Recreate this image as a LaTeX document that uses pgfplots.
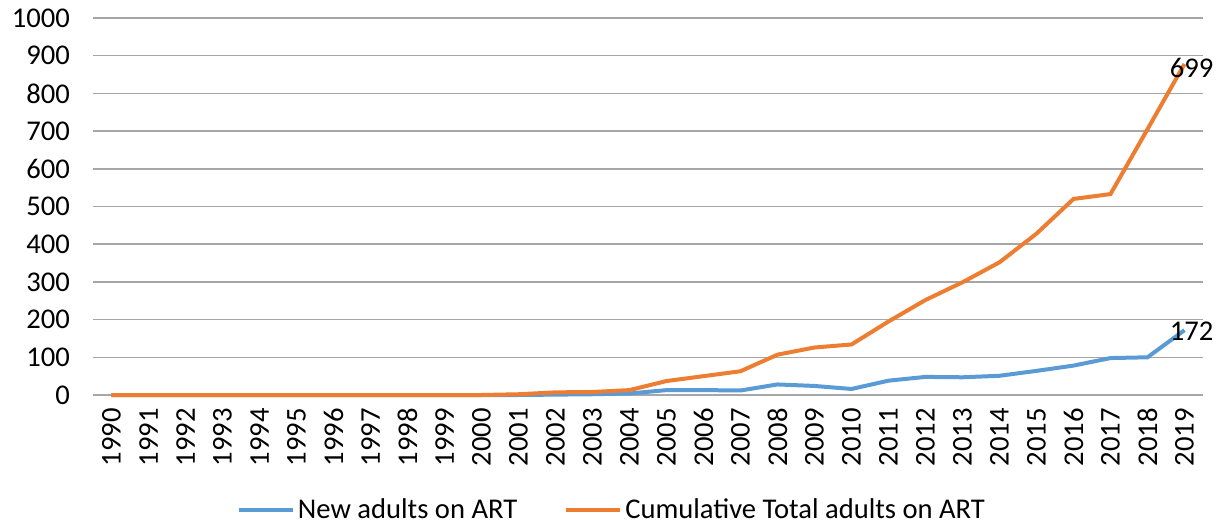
\documentclass[border=0pt]{standalone}
\usepackage{pgfplots}
\pgfplotsset{compat=1.18}
\usepackage{fontspec}
\setmainfont{Carlito}
\definecolor{cblue}{HTML}{5B9BD5}
\definecolor{corange}{HTML}{ED7D31}
\definecolor{cgrid}{HTML}{A6A6A6}
\begin{document}
\begin{tikzpicture}
\useasboundingbox (0,0) rectangle (608pt,262.5pt);
\begin{axis}[
  at={(46.5pt,65pt)}, anchor=south west,
  scale only axis, width=555pt, height=188.5pt,
  xmin=-0.5, xmax=29.5, ymin=0, ymax=1000,
  xtick={0,...,29},
  xticklabels={1990,1991,1992,1993,1994,1995,1996,1997,1998,1999,2000,2001,2002,2003,2004,2005,2006,2007,2008,2009,2010,2011,2012,2013,2014,2015,2016,2017,2018,2019},
  ytick={0,100,...,1000},
  ymajorgrids, grid style={cgrid, line width=0.75pt},
  axis line style={draw=none},
  tick style={draw=none},
  /pgf/number format/assume math mode=true,
  /pgf/number format/1000 sep={},
  every tick label/.append style={font=\fontsize{14.3}{17}\selectfont},
  x tick label style={rotate=90, anchor=east, xshift=-3pt},
  y tick label style={xshift=-8pt},
  clip=false,
  legend columns=2,
  legend style={at={(0.468,-0.305)}, anchor=center, draw=none, fill=none,
    font=\fontsize{14.3}{17}\selectfont,
    nodes={inner sep=1.5pt},
    /tikz/every even column/.append style={column sep=22pt},
    inner sep=0pt},
  legend cell align=left,
  legend image code/.code={\draw[#1, line width=2pt] (0pt,0pt) -- (27pt,0pt);},
]
\addplot[cblue, line width=2pt] coordinates {
(0,0) (1,0) (2,0) (3,0) (4,0) (5,0) (6,0) (7,0) (8,0) (9,0)
(10,0) (11,0) (12,1) (13,2) (14,4) (15,13) (16,13) (17,12) (18,28) (19,24)
(20,16) (21,38) (22,48) (23,47) (24,51) (25,64) (26,78) (27,98) (28,100) (29,172)};
\addlegendentry{New adults on ART}
\addplot[corange, line width=2pt] coordinates {
(0,0) (1,0) (2,0) (3,0) (4,0) (5,0) (6,0) (7,0) (8,0) (9,0)
(10,0) (11,2) (12,7) (13,8) (14,13) (15,37) (16,50) (17,63) (18,107) (19,126)
(20,134) (21,195) (22,252) (23,299) (24,352) (25,428) (26,520) (27,533) (28,705) (29,878)};
\addlegendentry{Cumulative Total adults on ART}
\node[anchor=west, inner sep=0pt, xshift=-7.5pt, font=\fontsize{14.3}{17}\selectfont] at (axis cs:29,868) {699};
\node[anchor=west, inner sep=0pt, xshift=-7.5pt, font=\fontsize{14.3}{17}\selectfont] at (axis cs:29,168) {172};
\end{axis}
\end{tikzpicture}
\end{document}
